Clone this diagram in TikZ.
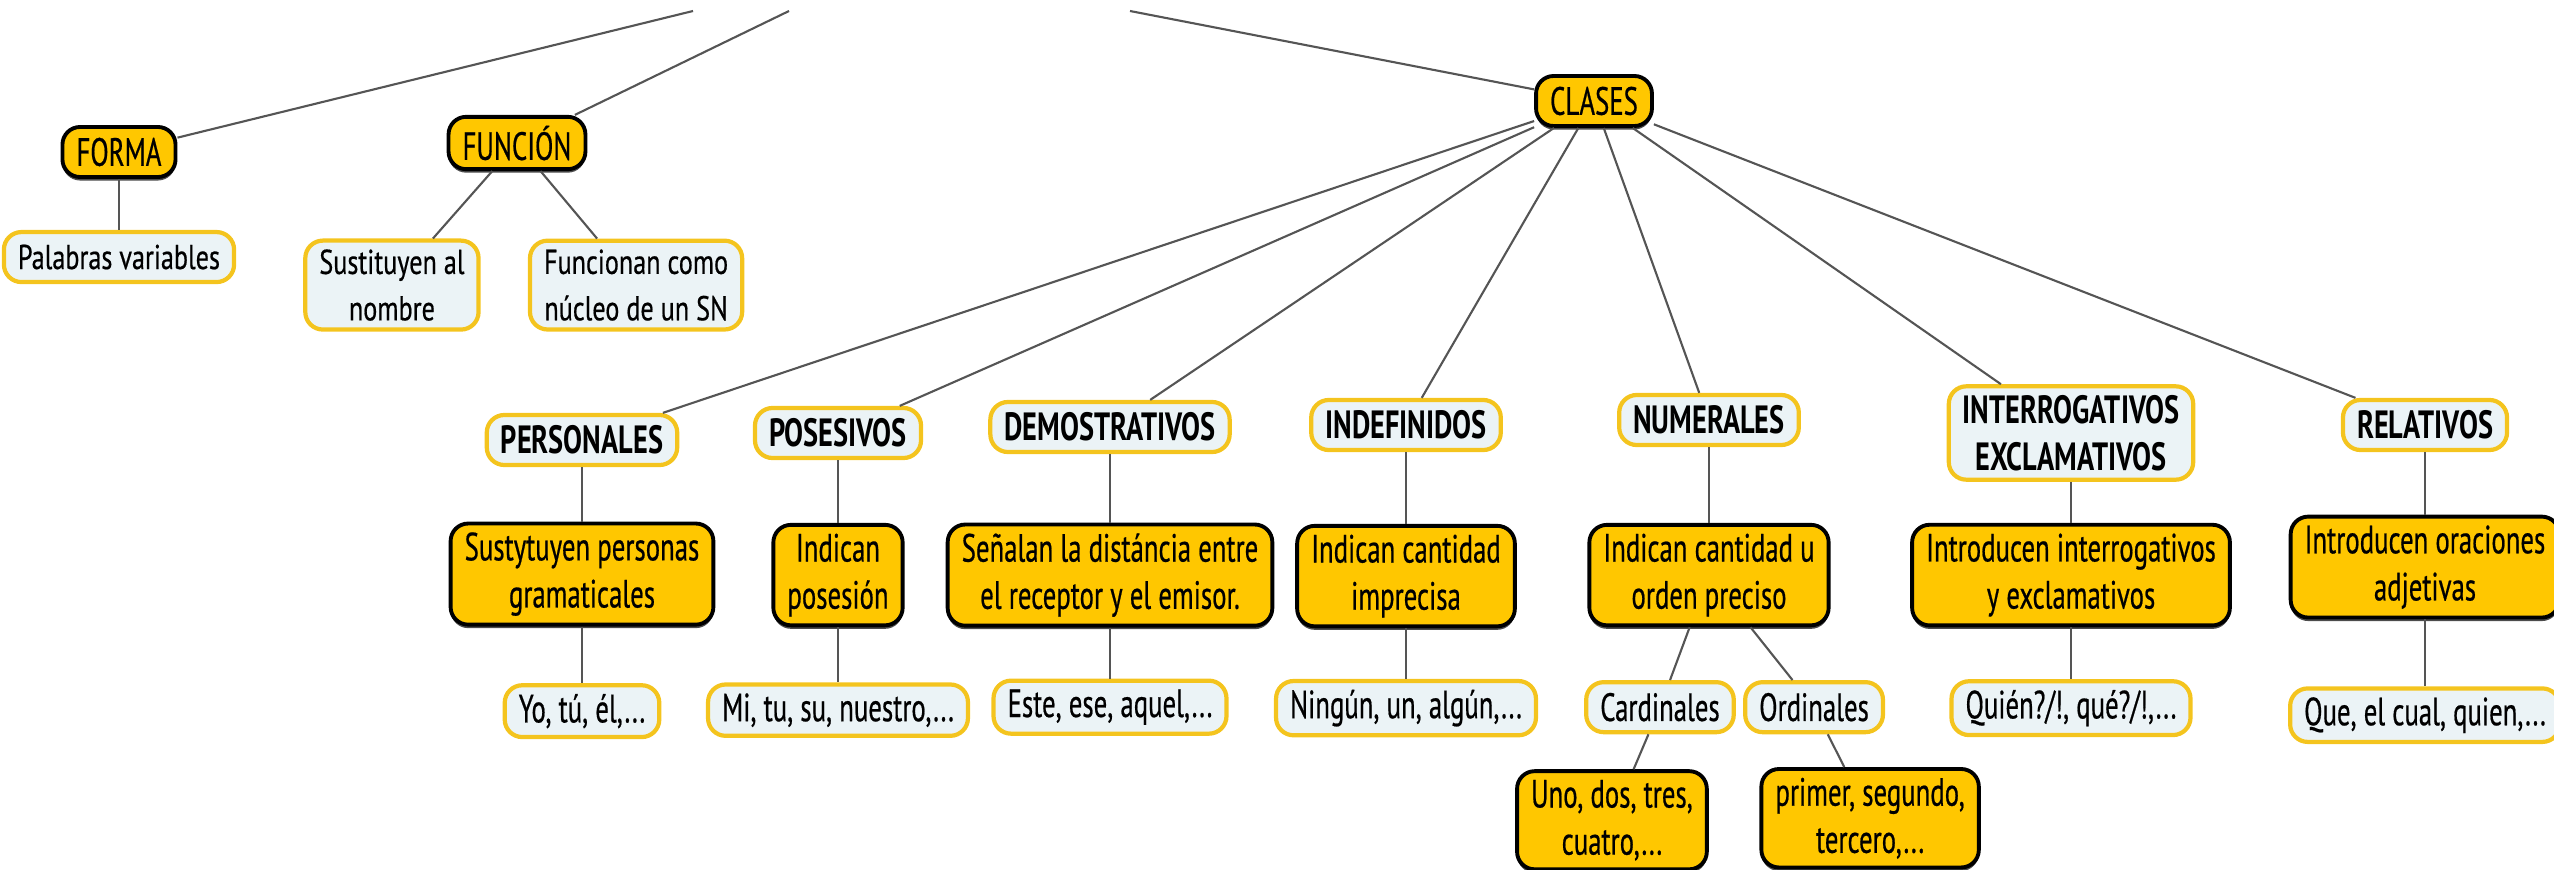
\documentclass[tikz,border=0pt]{standalone}
\usepackage{fontspec}
\setmainfont{PT Sans}[FakeStretch=0.68, FakeBold=0.5]
\newfontfamily\kindfam{PT Sans}[FakeStretch=0.72]
\newfontfamily\smallfam{PT Sans}[FakeStretch=0.76, FakeBold=0.5]
\usetikzlibrary{positioning,shadows}
\definecolor{mapgold}{RGB}{255,199,0}
\definecolor{mapedge}{RGB}{244,196,30}
\definecolor{mapfill}{RGB}{235,243,246}
\definecolor{mapline}{RGB}{85,85,85}
\newcommand{\mapsmall}{\smallfam\fontsize{9.8}{13.2}\selectfont}

\begin{document}
\begin{tikzpicture}[
    x=0.01cm, y=-0.01cm,
    node distance=1.42cm,
    font=\fontsize{11.2}{13.4}\selectfont,
    topic/.style={rectangle, rounded corners=5pt, draw=black, line width=1.1pt, fill=mapgold, align=center, inner xsep=4pt, inner ysep=2.5pt, minimum height=0.5cm,
        drop shadow={shadow xshift=0pt, shadow yshift=-1pt, opacity=0.7, fill=black}},
    leaf/.style={rectangle, rounded corners=5pt, draw=mapedge, line width=1.2pt, fill=mapfill, align=center, inner xsep=4pt, inner ysep=2.5pt, minimum height=0.5cm},
    kind/.style={leaf, font=\kindfam\fontsize{11.2}{13.4}\selectfont\bfseries},
    link/.style={draw=mapline, line width=0.6pt}
]
\useasboundingbox (0,0) rectangle (2554,870);

% Ends of the lines that leave the picture at the top
\coordinate (up1) at (693,11);
\coordinate (up2) at (789,11);
\coordinate (up3) at (1130,11);

% Forma
\node[topic] (forma) at (119,152) {FORMA};
\node[leaf, font=\mapsmall, below of=forma, yshift=0.37cm] (palabras) {Palabras variables};

% Funcion
\node[topic] (funcion) at (517,143) {FUNCIÓN};
\node[leaf, font=\mapsmall, below of=funcion, xshift=-1.25cm] (sustituyen) {Sustituyen al\\nombre};
\node[leaf, font=\mapsmall, below of=funcion, xshift=1.19cm] (funcionan) {Funcionan como\\núcleo de un SN};

% Clases
\node[topic] (clases) at (1594,101) {CLASES};

% Personales
\node[kind] (personales) at (582,440) {PERSONALES};
\node[topic, below of=personales, yshift=0.08cm] (personalesdef) {Sustytuyen personas\\gramaticales};
\node[leaf, below of=personalesdef, yshift=0.05cm] (personalesej) {Yo, tú, él,...};

% Posesivos
\node[kind] (posesivos) at (838,433) {POSESIVOS};
\node[topic, below of=posesivos] (posesivosdef) {Indican\\posesión};
\node[leaf, below of=posesivosdef, yshift=0.07cm] (posesivosej) {Mi, tu, su, nuestro,...};

% Demostrativos
\node[kind] (demostrativos) at (1110,427) {DEMOSTRATIVOS};
\node[topic, below of=demostrativos, yshift=-0.06cm] (demostrativosdef) {Señalan la distáncia entre\\el receptor y el emisor.};
\node[leaf, below of=demostrativosdef, yshift=0.1cm] (demostrativosej) {Este, ese, aquel,...};

% Indefinidos
\node[kind] (indefinidos) at (1406,425) {INDEFINIDOS};
\node[topic, below of=indefinidos, yshift=-0.09cm] (indefinidosdef) {Indican cantidad\\imprecisa};
\node[leaf, below of=indefinidosdef, yshift=0.1cm] (indefinidosej) {Ningún, un, algún,...};

% Numerales
\node[kind] (numerales) at (1709,420) {NUMERALES};
\node[topic, below of=numerales, yshift=-0.13cm] (numeralesdef) {Indican cantidad u\\orden preciso};
\node[leaf, below of=numeralesdef, xshift=-0.49cm, yshift=0.1cm] (cardinales) {Cardinales};
\node[leaf, below of=numeralesdef, xshift=1.05cm, yshift=0.1cm] (ordinales) {Ordinales};
\node[topic, below of=cardinales, xshift=-0.48cm, yshift=0.29cm] (cardinalesej) {Uno, dos, tres,\\cuatro,...};
\node[topic, below of=ordinales, xshift=0.56cm, yshift=0.31cm] (ordinalesej) {primer, segundo,\\tercero,...};

% Interrogativos
\node[kind] (interrogativos) at (2071,433) {INTERROGATIVOS\\EXCLAMATIVOS};
\node[topic, below of=interrogativos] (interrogativosdef) {Introducen interrogativos\\y exclamativos};
\node[leaf, below of=interrogativosdef, yshift=0.09cm] (interrogativosej) {Quién?/!, qué?/!,...};

% Relativos
\node[kind] (relativos) at (2425,425) {RELATIVOS};
\node[topic, below of=relativos] (relativosdef) {Introducen oraciones\\adjetivas};
\node[leaf, below of=relativosdef, yshift=-0.06cm] (relativosej) {Que, el cual, quien,...};

% Lines
\draw[link] (forma) -- (up1);
\draw[link] (funcion) -- (up2);
\draw[link] (clases) -- (up3);
\draw[link] (forma) -- (palabras);
\draw[link] (funcion) -- (sustituyen);
\draw[link] (funcion) -- (funcionan);
\foreach \k in {personales,posesivos,demostrativos,indefinidos,numerales,interrogativos,relativos} {
    \draw[link] (clases) -- (\k);
    \draw[link] (\k) -- (\k def);
}
\foreach \a/\b in {personalesdef/personalesej, posesivosdef/posesivosej, demostrativosdef/demostrativosej, indefinidosdef/indefinidosej, interrogativosdef/interrogativosej, relativosdef/relativosej, numeralesdef/cardinales, numeralesdef/ordinales, cardinales/cardinalesej, ordinales/ordinalesej}
    \draw[link] (\a) -- (\b);

\end{tikzpicture}
\end{document}
